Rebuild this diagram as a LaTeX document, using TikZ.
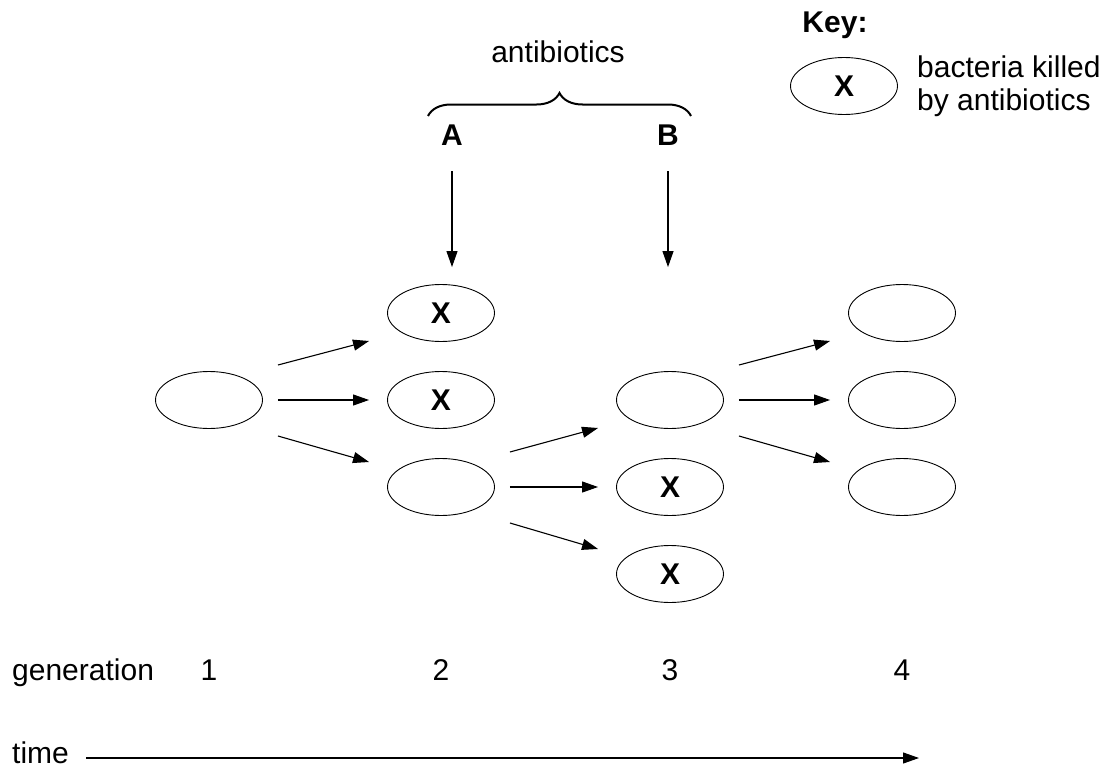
\documentclass[tikz,border=0pt]{standalone}
\usepackage{fontspec}
\setmainfont{Liberation Sans}
\usetikzlibrary{arrows.meta, calc, decorations.pathreplacing, shapes.geometric}

\begin{document}
\begin{tikzpicture}[
  x=1pt, y=-1pt,
  font=\fontsize{30}{33}\selectfont,
  cell/.style={ellipse, draw, line width=0.9pt, minimum width=107pt,
    minimum height=57pt, inner sep=0pt},
  killed/.style={cell, font=\fontsize{30}{33}\selectfont\bfseries},
  growth/.style={-{Triangle[length=16pt, width=11pt]}, line width=1.1pt},
  brace/.style={decorate, decoration={brace, amplitude=23pt}, line width=2pt},
]
\useasboundingbox (0,0) rectangle (1114,771);

% --- Bacteria, one column per generation ------------------------------------
\node[cell]   (g1)  at (209,400) {};
\node[killed] (g2a) at (441,313) {X};
\node[killed] (g2b) at (441,400) {X};
\node[cell]   (g2c) at (441,487) {};
\node[cell]   (g3a) at (670,400) {};
\node[killed] (g3b) at (670,487) {X};
\node[killed] (g3c) at (670,574) {X};
\node[cell]   (g4a) at (902,313) {};
\node[cell]   (g4b) at (902,400) {};
\node[cell]   (g4c) at (902,487) {};

% --- Divisions --------------------------------------------------------------
\foreach \s/\t/\dy/\ey in {g1/g2a/-35/28, g1/g2b/0/0, g1/g2c/36/-25,
                           g2c/g3a/-35/28, g2c/g3b/0/0, g2c/g3c/36/-25,
                           g3a/g4a/-35/28, g3a/g4b/0/0, g3a/g4c/36/-25}
  \draw[growth] ($(\s.east)+(15,\dy)$) -- ($(\t.west)+(-18,\ey)$);

% --- Antibiotic doses -------------------------------------------------------
\node[anchor=base, font=\fontsize{30}{33}\selectfont\bfseries] (doseA) at (452,145) {A};
\node[anchor=base, font=\fontsize{30}{33}\selectfont\bfseries] (doseB) at (668,145) {B};
\draw[growth] ($(doseA.base)+(0,26)$) -- ($(g2a.north)+(11,-17)$);
\draw[growth] ($(doseB.base)+(0,26)$) -- ($(g3a.north)+(-2,-104)$);
\draw[brace] (428,116) -- (691,116);
\node[anchor=base] (drug) at (558,62) {antibiotics};

% --- Key --------------------------------------------------------------------
\node[anchor=base, font=\fontsize{30}{33}\selectfont\bfseries] (keyhead) at (835,32) {Key:};
\node[killed] (keycell) at (844,86) {X};
\node[anchor=base west, align=left, inner sep=0pt] (keytext) at (917,110) {bacteria killed\\by antibiotics};

% --- Generation and time axis ---------------------------------------------
\node[anchor=base west, inner sep=0pt] (genlbl) at (12,680) {generation};
\foreach \n/\c in {1/g1, 2/g2b, 3/g3a, 4/g4b}
  \node[anchor=base] (num\n) at (\c |- 0,680) {\n};
\node[anchor=base west, inner sep=0pt] (timelbl) at (12,763) {time};
\coordinate (timestart) at (86,758);
\coordinate (timeend) at (919,758);
\draw[growth] (timestart) -- (timeend);
\end{tikzpicture}
\end{document}
